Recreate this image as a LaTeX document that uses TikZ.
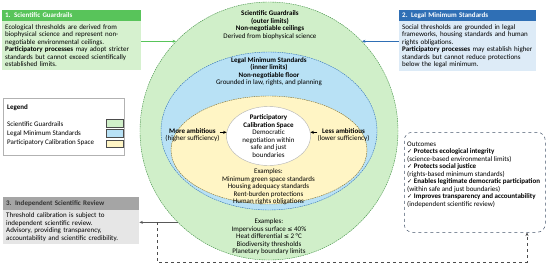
\documentclass[tikz,border=0pt]{standalone}
\usepackage{fontspec}
\setmainfont{Carlito}
\newfontfamily\symfont{DejaVu Sans}
\usetikzlibrary{calc,arrows.meta,shapes.geometric,positioning}
\hyphenpenalty=10000

\definecolor{sgfill}{HTML}{D0EFC9}
\definecolor{sgline}{HTML}{3E8E41}
\definecolor{sghead}{HTML}{58C45A}
\definecolor{sgbody}{HTML}{D6F1CF}
\definecolor{lmfill}{HTML}{B8E1F5}
\definecolor{lmline}{HTML}{2F6FB5}
\definecolor{lmhead}{HTML}{2F6FB5}
\definecolor{lmbody}{HTML}{DDEBF7}
\definecolor{pcfill}{HTML}{FFF5C5}
\definecolor{pcline}{HTML}{7A6A2A}
\definecolor{irhead}{HTML}{A5A5A5}
\definecolor{irbody}{HTML}{E6E6E6}
\definecolor{outline}{HTML}{44546A}

\tikzset{
  ring/.style={ellipse, inner sep=0pt, line width=0.4pt, dash pattern=on 1.5pt off 0.8pt},
  ringtext/.style={align=center, inner sep=0pt},
  headbox/.style={anchor=south west, minimum height=10.5pt, inner xsep=3pt, inner ysep=0pt, align=left, font=\fontsize{7}{7.5}\selectfont\bfseries},
  bodybox/.style={anchor=north west, inner xsep=3pt, inner ysep=3.3pt, align=left},
  legbox/.style={anchor=north west, draw=gray!60, fill=white, line width=0.4pt, minimum width=121pt, minimum height=57pt, inner sep=0pt},
  legitem/.style={anchor=west, inner sep=0pt},
  swatch/.style={draw=black!70, line width=0.4pt, minimum width=16.5pt, minimum height=7.5pt, inner sep=0pt},
  tip/.style={-{Stealth[length=3.5pt,width=3pt]}}
}

\begin{document}
\begin{tikzpicture}[x=1pt,y=-1pt,font=\fontsize{7}{7.5}\selectfont]
  \useasboundingbox (0,0) rectangle (550,266);

  % Kreise
  \node[ring, draw=sgline, fill=sgfill, minimum width=258pt, minimum height=258pt] (outer) at (269,131) {};
  \node[ring, draw=lmline, fill=lmfill, minimum width=216pt, minimum height=158pt] (legal) at (269,131) {};
  \node[ring, draw=pcline, fill=pcfill, minimum width=196pt, minimum height=108pt] (space) at (269,150) {};
  \node[ellipse, draw=gray!60, fill=white, line width=0.4pt, minimum width=84pt, minimum height=59pt, inner sep=0pt] (calib) at (268.5,136) {};

  \node[ringtext, anchor=north] (sgtext) at (270,10.5) {\textbf{Scientific Guardrails}\\\textbf{(outer limits)}\\\textbf{Non-negotiable ceilings}\\Derived from biophysical science};
  \node[ringtext, anchor=north] (lmtext) at (269,57) {\textbf{Legal Minimum Standards}\\\textbf{(inner limits)}\\\textbf{Non-negotiable floor}\\Grounded in law, rights, and planning};
  \node[ringtext] (calibtext) at (calib) {\textbf{Participatory}\\\textbf{Calibration Space}\\Democratic\\negotiation within\\safe and just\\boundaries};
  \node[ringtext, anchor=north] (pcex) at (268.5,168.5) {Examples:\\Minimum green space standards\\Housing adequacy standards\\Rent-burden protections\\Human rights obligations};
  \node[ringtext, anchor=north] (sgex) at (269,218.5) {Examples:\\Impervious surface {\symfont\fontsize{6.2}{7.5}\selectfont ≤} 40\%\\Heat differential {\symfont\fontsize{6.2}{7.5}\selectfont ≤} 2 °C\\Biodiversity thresholds\\Planetary boundary limits};

  % mehr / weniger ambitioniert
  \coordinate (moretail) at ($(calib.175)+(-7pt,0)$);
  \coordinate (lesstail) at ($(calib.5)+(7pt,0)$);
  \draw[tip, line width=0.5pt] (moretail) -- (calib.175);
  \draw[tip, line width=0.5pt] (lesstail) -- (calib.5);
  \node[ringtext, anchor=north east] (more) at ($(moretail)+(0,4pt)$) {\textbf{More ambitious}\\(higher sufficiency)};
  \node[ringtext, anchor=north west] (less) at ($(lesstail)+(0,4pt)$) {\textbf{Less ambitious}\\(lower sufficiency)};

  % Box 1
  \node[bodybox, fill=sgbody, text width=133pt] (box1) at (2,20.7) {Ecological thresholds are derived from\\biophysical science and represent non-\\negotiable environmental ceilings.\\\textbf{Participatory processes} may adopt stricter\\standards but cannot exceed scientifically\\established limits.};
  \node[headbox, fill=sghead, text=white, text width=133pt] (box1head) at (box1.north west) {1. Scientific Guardrails};

  % Box 2
  \node[bodybox, fill=lmbody, text width=131pt] (box2) at (399,20.7) {Social thresholds are grounded in legal\\frameworks, housing standards and human\\rights obligations.\\\textbf{Participatory processes} may establish higher\\standards but cannot reduce protections\\below the legal minimum.};
  \node[headbox, fill=lmhead, text=white, text width=131pt] (box2head) at (box2.north west) {2. Legal Minimum Standards};

  % Box 3
  \node[bodybox, fill=irbody, text width=130pt, inner ysep=2.5pt] (box3) at (3,210) {Threshold calibration is subject to\\independent scientific review.\\Advisory, providing transparency,\\accountability and scientific credibility.};
  \node[headbox, fill=irhead, text=black!80, text width=130pt, minimum height=13pt] (box3head) at (box3.north west) {3. Independent Scientific Review};

  % Legende
  \node[legbox] (legend) at (3,98) {};
  \node[legitem, font=\fontsize{7}{7.5}\selectfont\bfseries] (legtitle) at (7,108) {Legend};
  \node[legitem] (legsg) at (7,124.5) {Scientific Guardrails};
  \node[legitem] (leglm) at (7,133.5) {Legal Minimum Standards};
  \node[legitem] (legpc) at (7,142.5) {Participatory Calibration Space};
  \node[swatch, fill=sgfill] (swsg) at (114.5,123) {};
  \node[swatch, fill=lmfill] (swlm) at (114.5,133) {};
  \node[swatch, fill=pcfill] (swpc) at (114.5,143.5) {};

  % Outcomes
  \node[anchor=north west, draw=outline, dashed, line width=0.5pt, rounded corners=8pt, minimum width=141pt, minimum height=100pt, inner sep=0pt] (outcomes) at (404,132) {};
  \node[anchor=north west, align=left, inner sep=0pt] (outtext) at (407,141.5) {Outcomes\\{\symfont\fontsize{6.2}{7.5}\selectfont ✓} \textbf{Protects ecological integrity}\\(science-based environmental limits)\\{\symfont\fontsize{6.2}{7.5}\selectfont ✓} \textbf{Protects social justice}\\(rights-based minimum standards)\\{\symfont\fontsize{6.2}{7.5}\selectfont ✓} \textbf{Enables legitimate democratic participation}\\(within safe and just boundaries)\\{\symfont\fontsize{6.2}{7.5}\selectfont ✓} \textbf{Improves transparency and accountability}\\(independent scientific review)};

  % Verbindungen
  \draw[tip, draw=sghead, line width=0.6pt] (box1.east |- outer.136) -- (outer.136);
  \draw[tip, draw=lmline, line width=0.6pt] (box2.west |- outer.44) -- (outer.44);
  \draw[tip, draw=black!65, line width=0.6pt] (outer.225) -- (box3.east |- outer.225);
  \coordinate (tap) at ($(box3.east |- outer.225)!0.46!(outer.225)$);
  \coordinate (turn) at (527,262);
  \draw[tip, draw=black!70, dashed, line width=0.5pt] (tap) |- (turn) -- (turn |- outcomes.south);
\end{tikzpicture}
\end{document}
